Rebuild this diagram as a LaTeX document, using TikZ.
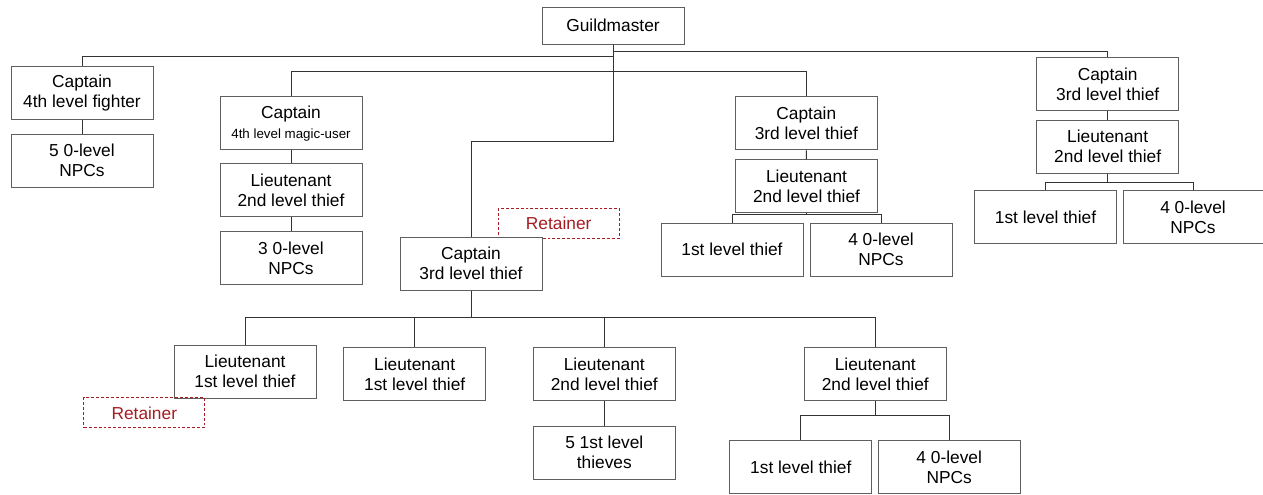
\documentclass[tikz,border=0pt]{standalone}
\usepackage{fontspec}
\setmainfont{Liberation Sans}
\usepackage{tikz}
\usepackage{xcolor}
\definecolor{boxline}{HTML}{5F5F5F}
\definecolor{retred}{HTML}{A61C22}

\begin{document}
\begin{tikzpicture}[x=0.75pt,y=-0.75pt,
        rank/.style={draw=boxline,line width=0.75pt,minimum width=106.5pt,minimum height=39.75pt,
            inner sep=0pt,align=center,font=\fontsize{13}{15}\selectfont},
        tag/.style={draw=retred,dashed,dash pattern=on 2.2pt off 1.5pt,line width=0.6pt,text=retred,
            minimum width=90.75pt,minimum height=22.5pt,inner sep=0pt,font=\fontsize{13}{15}\selectfont},
        wire/.style={draw=black!80,line width=0.75pt}]
        \useasboundingbox (0,0) rectangle (1263,494);
        % Guildmaster
        \draw (613,25.7) node[rank,minimum height=27.75pt](gm) {Guildmaster};
        % Captain, fighter
        \draw (82,93.3) node[rank](capF) {Captain\\4th level fighter};
        \draw (82,160.7) node[rank](npcF) {5 0-level\\NPCs};
        % Captain, magic-user
        \draw (291,123.3) node[rank](capM) {Captain\\{\fontsize{10}{15}\selectfont 4th level magic-user}};
        \draw (291,190) node[rank](ltM) {Lieutenant\\2nd level thief};
        \draw (291,257.8) node[rank](npcM) {3 0-level\\NPCs};
        % Captain, thief (middle right)
        \draw (806.3,123.3) node[rank](capT) {Captain\\3rd level thief};
        \draw (806.5,186.4) node[rank](ltT) {Lieutenant\\2nd level thief};
        \draw (732,249.7) node[rank](thT) {1st level thief};
        \draw (881,249.7) node[rank](npcT) {4 0-level\\NPCs};
        % Captain, thief (far right)
        \draw (1107.7,84) node[rank](capR) {Captain\\3rd level thief};
        \draw (1107.7,146.7) node[rank](ltR) {Lieutenant\\2nd level thief};
        \draw (1045.5,217.2) node[rank](thR) {1st level thief};
        \draw (1193,217.2) node[rank,minimum width=105pt](npcR) {4 0-level\\NPCs};
        % Captain, thief (centre) and his lieutenants
        \draw (558.7,223.3) node[tag](retC) {Retainer};
        \draw (471,263.5) node[rank,fill=white](capC) {Captain\\3rd level thief};
        \draw (245,371.7) node[rank](ltA) {Lieutenant\\1st level thief};
        \draw (144.3,412.8) node[tag](retA) {Retainer};
        \draw (414.7,373.8) node[rank](ltB) {Lieutenant\\1st level thief};
        \draw (604.3,373.8) node[rank](ltC) {Lieutenant\\2nd level thief};
        \draw (604.3,452.5) node[rank](thC) {5 1st level\\thieves};
        \draw (875.3,373.8) node[rank](ltD) {Lieutenant\\2nd level thief};
        \draw (800.8,467) node[rank](thD) {1st level thief};
        \draw (949.2,467) node[rank](npcD) {4 0-level\\NPCs};
        % Lines
        \draw[wire] (gm.south) -- ++(0,11.7) -| (capF.north);
        \draw[wire] (gm.south) -- ++(0,26.5) -| (capM.north);
        \draw[wire] (gm.south) -- ++(0,26.5) -| (capT.north);
        \draw[wire] (gm.south) -- ++(0,6.8) -| (capR.north);
        \draw[wire] (gm.south) -- ++(0,96.8) -| (capC.north);
        \draw[wire] (capF) -- (npcF);
        \draw[wire] (capM) -- (ltM);
        \draw[wire] (ltM) -- (npcM);
        \draw[wire] (capT) -- (ltT);
        \draw[wire] (ltT.south) -- ++(0,0.6) -| (thT.north);
        \draw[wire] (ltT.south) -- ++(0,0.6) -| (npcT.north);
        \draw[wire] (capR) -- (ltR);
        \draw[wire] (ltR.south) -- ++(0,8.4) -| (thR.north);
        \draw[wire] (ltR.south) -- ++(0,8.4) -| (npcR.north);
        \draw[wire] (capC.south) -- ++(0,27) -| (ltA.north);
        \draw[wire] (capC.south) -- ++(0,27) -| (ltB.north);
        \draw[wire] (capC.south) -- ++(0,27) -| (ltC.north);
        \draw[wire] (capC.south) -- ++(0,27) -| (ltD.north);
        \draw[wire] (ltC) -- (thC);
        \draw[wire] (ltD.south) -- ++(0,14.3) -| (thD.north);
        \draw[wire] (ltD.south) -- ++(0,14.3) -| (npcD.north);
    \end{tikzpicture}
\end{document}
